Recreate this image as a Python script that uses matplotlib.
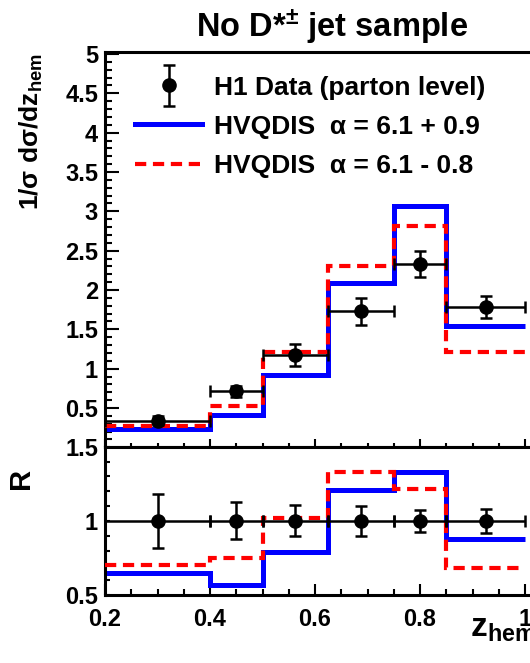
import matplotlib
matplotlib.use("Agg")
import matplotlib.pyplot as plt
import numpy as np
from matplotlib.lines import Line2D
from matplotlib.legend_handler import HandlerErrorbar
from matplotlib.ticker import MultipleLocator, FuncFormatter

plt.rcParams['font.family'] = ['Liberation Sans', 'DejaVu Sans']
plt.rcParams['font.weight'] = 'bold'
plt.rcParams['mathtext.fontset'] = 'custom'
plt.rcParams['mathtext.rm'] = 'Liberation Sans:bold'
plt.rcParams['mathtext.bf'] = 'Liberation Sans:bold'
plt.rcParams['mathtext.it'] = 'Liberation Sans:bold'
plt.rcParams['mathtext.default'] = 'bf'

# ---- data ----
bin_edges = [0.2, 0.4, 0.5, 0.625, 0.75, 0.85, 1.0]
z_centers = [0.3, 0.45, 0.5625, 0.6875, 0.8, 0.925]
data_vals = [0.34, 0.71, 1.17, 1.73, 2.33, 1.78]
data_errs = [0.06, 0.07, 0.14, 0.17, 0.16, 0.14]
hvq_up = [0.23, 0.41, 0.92, 2.09, 3.07, 1.54]
hvq_down = [0.27, 0.525, 1.215, 2.30, 2.815, 1.21]
ratio_errs = [0.18, 0.125, 0.105, 0.10, 0.073, 0.08]
ratio_up = [0.65, 0.57, 0.79, 1.205, 1.33, 0.875]
ratio_down = [0.70, 0.75, 1.02, 1.33, 1.215, 0.685]
labels = ["H1 Data (parton level)", "HVQDIS  \u03b1 = 6.1 + 0.9", "HVQDIS  \u03b1 = 6.1 - 0.8"]

edges = np.array(bin_edges)
centers = np.array(z_centers)
xerr = np.vstack([centers - edges[:-1], edges[1:] - centers])

W_, H_ = 530, 663
fig = plt.figure(figsize=(5.3, 6.63), dpi=100)
L = 105 / W_
Wax = 0.82 * 525 / W_
ax1 = fig.add_axes([L, 1 - 446.7 / H_, Wax, (446.7 - 52) / H_])
ax2 = fig.add_axes([L, 1 - 595 / H_, Wax, (595 - 446.7) / H_])

BLUE = '#0000ff'
RED = '#ff0000'
lw_blue = 3.6
lw_red = 3.0
dash = (2.7, 1.6)

def style(ax):
    for s in ax.spines.values():
        s.set_linewidth(2.2)

# top panel
ax1.stairs(hvq_up, edges, baseline=None, color=BLUE, lw=lw_blue, zorder=2)
ax1.stairs(hvq_down, edges, baseline=None, color=RED, lw=lw_red, linestyle=(0, dash), zorder=3)
hdata = ax1.errorbar(centers, data_vals, xerr=xerr, yerr=data_errs, fmt='o', color='black',
                     ms=9.5, elinewidth=1.8, capsize=4.5, capthick=1.8, zorder=4)
ax1.set_xlim(0.2, 1.02)
ax1.set_ylim(0.008, 5.025)
ax1.yaxis.set_major_locator(MultipleLocator(0.5))
ax1.yaxis.set_minor_locator(MultipleLocator(0.1))
ax1.xaxis.set_major_locator(MultipleLocator(0.2))
ax1.xaxis.set_minor_locator(MultipleLocator(0.05))
fmt = FuncFormatter(lambda v, p: '%g' % round(v, 3))
ax1.yaxis.set_major_formatter(fmt)
ax1.tick_params(axis='y', which='major', direction='in', length=10, width=1.5, labelsize=17, pad=5)
ax1.tick_params(axis='y', which='minor', direction='in', length=5, width=1.5)
ax1.tick_params(axis='x', which='major', direction='in', length=6, width=1.5, labelbottom=False)
ax1.tick_params(axis='x', which='minor', direction='in', length=3, width=1.5)
style(ax1)

blue_proxy = Line2D([], [], color=BLUE, lw=lw_blue)
red_proxy = Line2D([], [], color=RED, lw=lw_red, linestyle=(0, dash))
leg = ax1.legend([hdata, blue_proxy, red_proxy], labels,
                 handler_map={hdata: HandlerErrorbar(xerr_size=0.0, yerr_size=0.76)},
                 loc='upper left', bbox_to_anchor=(0.07, 0.940), frameon=False,
                 fontsize=19, handlelength=2.55, handletextpad=0.42, labelspacing=0.57,
                 borderpad=0, borderaxespad=0)

# ratio panel
ax2.stairs(ratio_up, edges, baseline=None, color=BLUE, lw=lw_blue, zorder=2)
ax2.stairs(ratio_down, edges, baseline=None, color=RED, lw=lw_red, linestyle=(0, dash), zorder=3)
ax2.errorbar(centers, np.ones(len(centers)), xerr=xerr, yerr=ratio_errs, fmt='o', color='black',
             ms=9.5, elinewidth=1.8, capsize=4.5, capthick=1.8, zorder=4)
ax2.set_xlim(0.2, 1.02)
ax2.set_ylim(0.5, 1.5)
ax2.yaxis.set_major_locator(MultipleLocator(0.5))
ax2.yaxis.set_minor_locator(MultipleLocator(0.1))
ax2.xaxis.set_major_locator(MultipleLocator(0.2))
ax2.xaxis.set_minor_locator(MultipleLocator(0.05))
ax2.yaxis.set_major_formatter(fmt)
ax2.xaxis.set_major_formatter(fmt)
ax2.tick_params(axis='y', which='both', direction='in', length=3.6, width=1.5, labelsize=17, pad=5)
ax2.tick_params(axis='x', which='major', direction='in', length=8, width=1.5, labelsize=17, pad=9)
ax2.tick_params(axis='x', which='minor', direction='in', length=4.3, width=1.5)
style(ax2)

# texts
fig.text(332 / W_, 1 - 37 / H_, 'No D*$^{\u00b1}$ jet sample', fontsize=23.5, fontweight='bold',
         ha='center', va='baseline')
fig.text(31.5 / W_, 1 - 53 / H_, '1/\u03c3 d\u03c3/dz$_{hem}$', fontsize=19, fontweight='bold',
         rotation=90, ha='center', va='top')
fig.text(21 / W_, 1 - 478 / H_, 'R', fontsize=21, fontweight='bold', rotation=90,
         ha='center', va='center')
fig.text(470 / W_, 1 - 637 / H_, 'z$_{hem}$', fontsize=24, fontweight='bold',
         ha='left', va='baseline')

fig.savefig('out.png', dpi=100)
